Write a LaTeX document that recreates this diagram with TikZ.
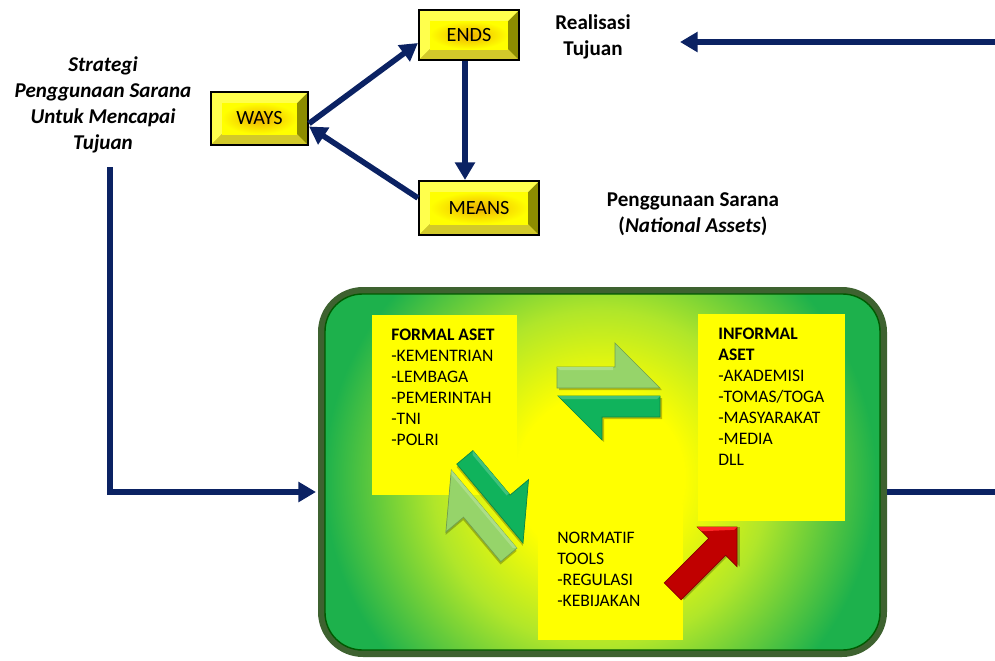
\documentclass[tikz,border=0pt]{standalone}
\usepackage{fontspec}
\setmainfont{Carlito}
\usepackage{tikz}
\usetikzlibrary{positioning}
\usetikzlibrary{arrows.meta}
\usetikzlibrary{calc}
\definecolor{navy}{HTML}{0B2263}
\definecolor{glowyellow}{HTML}{FFFF00}
\definecolor{glowlime}{HTML}{B0E62A}
\definecolor{glowgreen}{HTML}{1DB14C}
\definecolor{rimgreen}{HTML}{3E6230}
\definecolor{lightarrow}{HTML}{96D46A}
\definecolor{darkarrow}{HTML}{10B35C}
\definecolor{bevlight}{HTML}{FFFF4D}
\definecolor{bevdark}{HTML}{8C8C00}
\definecolor{bevglow}{HTML}{EEB000}
\definecolor{arrowred}{HTML}{C00000}
\pgfdeclareradialshading{panelglow}{\pgfpoint{0bp}{0bp}}{color(0bp)=(glowyellow); color(7bp)=(glowyellow); color(14bp)=(glowlime); color(23bp)=(glowgreen); color(50bp)=(glowgreen)}
\tikzstyle{line} = [draw=navy, line width=3.2pt, -{Triangle[length=10pt,width=11pt]}]
% two half arrows, tip of the upper one at the origin
\newcommand{\harpoonpair}[2]{%
	\fill[black, opacity=0.25] (2,2) -- (-101,2) -- (-101,-19) -- (-43,-19) -- (-43,-43) -- cycle;
	\fill[black, opacity=0.25] (-100,10) -- (2,10) -- (2,31) -- (-56,31) -- (-56,54) -- cycle;
	\fill[#1, draw=#1!75!black, line width=0.4pt] (0,0) -- (-103,0) -- (-103,-21) -- (-45,-21) -- (-45,-45) -- cycle;
	\fill[#1!80!white] (-100,-18) -- (-47,-18) -- (-47,-21) -- (-103,-21) -- cycle;
	\fill[#2, draw=#2!75!black, line width=0.4pt] (-102,8) -- (0,8) -- (0,29) -- (-58,29) -- (-58,52) -- cycle;
	\fill[#2!80!white] (-98,11) -- (-3,11) -- (0,8) -- (-102,8) -- cycle;}

\begin{document}
\begin{tikzpicture}[x=0.02cm, y=-0.02cm,
	bevelbox/.style={draw=black, line width=1.2pt, inner sep=0pt, font=\fontsize{11.5}{14}\selectfont,
		path picture={
			\coordinate (bl) at (path picture bounding box.south west);
			\coordinate (tr) at (path picture bounding box.north east);
			\coordinate (tl) at (bl|-tr);
			\coordinate (br) at (tr|-bl);
			\fill[bevdark] (bl) rectangle (tr);
			\fill[bevlight] (bl) -- (tl) -- (tr) -- ([shift={(-0.22cm,-0.22cm)}]tr) -- ([shift={(0.22cm,-0.22cm)}]tl) -- ([shift={(0.22cm,0.22cm)}]bl) -- cycle;
			\fill[yellow!80!black] (bl) -- (br) -- ([shift={(-0.22cm,0.22cm)}]br) -- ([shift={(0.22cm,0.22cm)}]bl) -- cycle;
			\shade[inner color=bevglow, outer color=glowyellow] ([shift={(0.22cm,0.22cm)}]bl) rectangle ([shift={(-0.22cm,-0.22cm)}]tr);}},
	outertext/.style={font=\fontsize{12}{14.7}\selectfont\bfseries, align=center},
	listtext/.style={font=\fontsize{10}{11.9}\selectfont, align=left, inner sep=0pt, anchor=north west}]
	\useasboundingbox (0,0) rectangle (995,660);

	% ways, ends, means
	\node[bevelbox, minimum width=1.94cm, minimum height=1.06cm](ways) at (259.5,118.5) {WAYS};
	\node[bevelbox, minimum width=2cm, minimum height=1cm](ends) at (469,35) {ENDS};
	\node[bevelbox, minimum width=2.4cm, minimum height=1.08cm](means) at (479,208) {MEANS};

	\draw[line] ([yshift=-0.1cm]ways.east) -- ([yshift=-0.16cm]ends.west);
	\draw[line] ([xshift=-0.08cm]ends.south) -- ([xshift=-0.08cm]ends.south |- means.north);
	\draw[line] ([yshift=0.2cm]means.west) -- ([yshift=-0.16cm]ways.east);

	\node[outertext](realisasi) at (593,37) {Realisasi\\Tujuan};
	\node[outertext](sarana) at (693,214) {Penggunaan Sarana\\(\textit{National Assets})};
	\node[outertext, font=\fontsize{12}{14.7}\selectfont\bfseries\itshape](strategi) at (103,105) {Strategi\\Penggunaan Sarana\\Untuk Mencapai\\Tujuan};

	% green panel
	\path[rounded corners=0.9cm, fill=rimgreen] (318,287) rectangle (887,657);
	\begin{scope}
		\clip[rounded corners=0.75cm] (325,294) rectangle (880,650);
		\fill[glowgreen] (325,294) rectangle (880,650);
		\shade[shading=panelglow] (600,478) circle (6cm);
	\end{scope}
	\draw[rounded corners=0.75cm, green!35!black, line width=0.8pt] (325,294) rectangle (880,650);

	\fill[glowyellow] (372,315) rectangle (517,495);
	\fill[glowyellow] (698,314) rectangle (845,521);
	\fill[glowyellow] (538,505) rectangle (683,640);

	\node[listtext](formal) at (391,329) {\textbf{FORMAL ASET}\\-KEMENTRIAN\\-LEMBAGA\\-PEMERINTAH\\-TNI\\-POLRI};
	\node[listtext](informal) at (718,328) {\textbf{INFORMAL}\\\textbf{ASET}\\-AKADEMISI\\-TOMAS/TOGA\\-MASYARAKAT\\-MEDIA\\DLL};
	\node[listtext](normatif) at (557,532) {NORMATIF\\TOOLS\\-REGULASI\\-KEBIJAKAN};

	% arrows inside the panel
	\begin{scope}[shift={(660,388)}]
		\harpoonpair{lightarrow}{darkarrow}
	\end{scope}
	\begin{scope}[shift={(523,543)}, rotate=-50]
		\harpoonpair{darkarrow}{lightarrow}
	\end{scope}
	\begin{scope}[shift={(737,527)}, rotate=45]
		\fill[black, opacity=0.25] (2,2) -- (-26,-26) -- (-26,-10) -- (-89,-10) -- (-89,14) -- (-26,14) -- (-26,30) -- cycle;
		\fill[arrowred, draw=arrowred!70!black, line width=0.4pt] (0,0) -- (-28,-28) -- (-28,-12) -- (-91,-12) -- (-91,12) -- (-28,12) -- (-28,28) -- cycle;
		\fill[red!85!white] (0,0) -- (-28,-28) -- (-28,-22) -- (-4,0) -- cycle;
	\end{scope}

	% connectors to the panel
	\coordinate (stratout) at (110,167);
	\coordinate (panelin) at (316,492);
	\coordinate (panelout) at (887,492);
	\coordinate (rightout) at (995,492);
	\coordinate (topin) at (995,42);
	\coordinate (topend) at (680,42);
	\draw[line] (stratout) |- (panelin);
	\draw[draw=navy, line width=3.2pt] (panelout) -- (rightout);
	\draw[line] (topin) -- (topend);
\end{tikzpicture}
\end{document}
